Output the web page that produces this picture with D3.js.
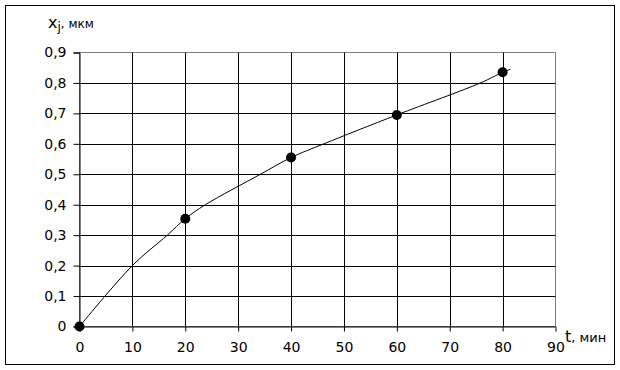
<!DOCTYPE html>
<html><head><meta charset="utf-8">
<script src="https://cdn.jsdelivr.net/npm/d3@7"></script>
<style>body{margin:0;background:#fff}svg{display:block}</style>
</head><body>
<script>
const xTicks = [0,10,20,30,40,50,60,70,80,90];
const yTicks = [0,0.1,0.2,0.3,0.4,0.5,0.6,0.7,0.8,0.9];
const pointT = [0,20,40,60,80];
const pointX = [0,0.354,0.555,0.695,0.835];
const curveT = [0,10,16.6,20,23.8,34.2,40,46.2,60,75.8,80,81.5];
const curveX = [0,0.2,0.3,0.354,0.4,0.5,0.555,0.6,0.695,0.8,0.835,0.845];

const W=620,H=370;
const svg=d3.select("body").append("svg").attr("width",W).attr("height",H);
svg.append("rect").attr("x",5.5).attr("y",5.5).attr("width",609).attr("height",359)
  .attr("fill","#fff").attr("stroke","#000").attr("stroke-width",1);

const x=d3.scaleLinear().domain([0,90]).range([79.5,555.5]);
const y=d3.scaleLinear().domain([0,0.9]).range([326.5,52.5]);
const font="DejaVu Sans, sans-serif";

svg.append("rect").attr("x",x(0)).attr("y",y(0.9)).attr("width",x(90)-x(0)).attr("height",y(0)-y(0.9))
  .attr("fill","none").attr("stroke","#808080");
const g=svg.append("g");
g.selectAll("line.h").data(yTicks.filter(d=>d>0&&d<0.9)).join("line")
  .attr("x1",x(0)).attr("x2",x(90)).attr("y1",d=>Math.round(y(d))+0.5).attr("y2",d=>Math.round(y(d))+0.5)
  .attr("stroke","#000");
g.selectAll("line.v").data(xTicks.filter(d=>d>0&&d<90)).join("line")
  .attr("y1",y(0)).attr("y2",y(0.9)).attr("x1",d=>Math.round(x(d))+0.5).attr("x2",d=>Math.round(x(d))+0.5)
  .attr("stroke","#000");

const xa=svg.append("g").attr("transform",`translate(0,${y(0)})`)
  .call(d3.axisBottom(x).tickValues(xTicks).tickSize(5).tickPadding(11).tickFormat(d3.format("d")));
const ya=svg.append("g").attr("transform",`translate(${x(0)},0)`)
  .call(d3.axisLeft(y).tickValues(yTicks).tickSize(6).tickPadding(7).tickFormat(d=>d===0?"0":d.toFixed(1).replace(".",",")));
[xa,ya].forEach(a=>{a.select(".domain").attr("stroke","#000");a.selectAll(".tick line").attr("stroke","#000");
  a.selectAll("text").attr("font-family",font).attr("font-size",14).attr("fill","#000");});
xa.selectAll(".tick").filter(d=>d===90).select("line").attr("stroke","#808080");

const line=d3.line().x(d=>x(d[0])).y(d=>y(d[1])).curve(d3.curveCatmullRom.alpha(0.5));
svg.append("path").datum(curveT.map((t,i)=>[t,curveX[i]])).attr("d",line)
  .attr("fill","none").attr("stroke","#000").attr("stroke-width",1);
svg.selectAll("circle.p").data(pointT.map((t,i)=>[t,pointX[i]])).join("circle")
  .attr("cx",d=>x(d[0])).attr("cy",d=>y(d[1])).attr("r",5).attr("fill","#000");

const yt=svg.append("text").attr("x",48).attr("y",28).attr("font-family",font).attr("fill","#000");
yt.append("tspan").attr("font-size",16).text("x");
yt.append("tspan").attr("font-size",12).attr("dy",3).text("j");
yt.append("tspan").attr("font-size",12).attr("dy",-3).text(", мкм");
const xt=svg.append("text").attr("x",565).attr("y",342).attr("font-family",font).attr("fill","#000");
xt.append("tspan").attr("font-size",16).text("t");
xt.append("tspan").attr("font-size",13).text(", мин");
</script>
</body></html>
